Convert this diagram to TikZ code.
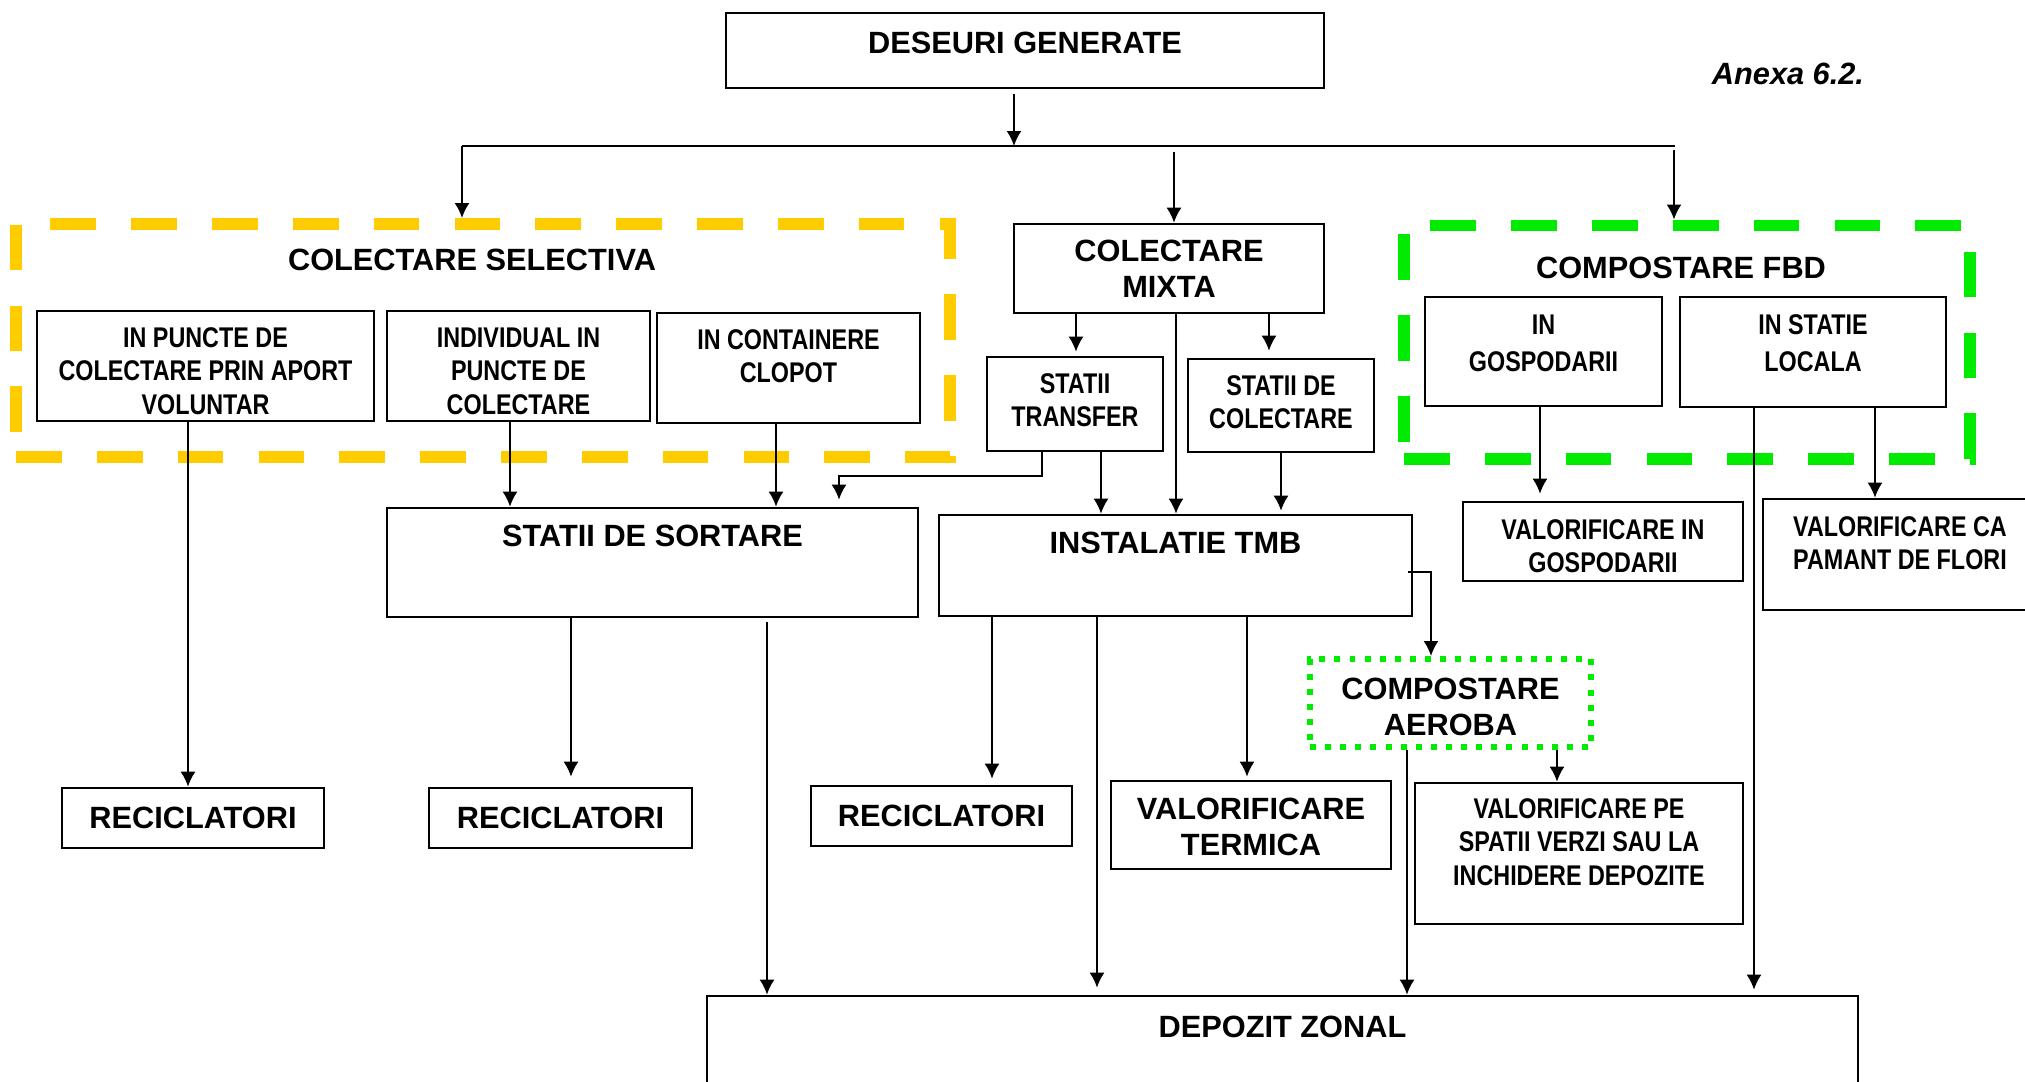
\documentclass[tikz,border=0pt]{standalone}
\usepackage{fontspec}
\setmainfont{Liberation Sans}
\newfontfamily\narrowfont{Liberation Sans}[FakeStretch=0.82]
\usetikzlibrary{arrows.meta,positioning}
\definecolor{selyellow}{RGB}{255,204,0}
\definecolor{fbdgreen}{RGB}{0,235,0}
\begin{document}
\begin{tikzpicture}[->,>={Latex[length=1.5mm,width=1.5mm]},line width=0.55pt]
	\def \hline{-1.46}
	\def \recrow{-8.18}
	\tikzstyle{big-box}=[rectangle,draw=black,line width=0.75pt,inner sep=0pt,align=center,font=\bfseries\fontsize{8.75}{10.3}\selectfont]
	\tikzstyle{narrow-box}=[rectangle,draw=black,line width=0.75pt,inner sep=0pt,align=center,font=\narrowfont\bfseries\fontsize{8.1}{9.5}\selectfont]
	\tikzstyle{big-title}=[inner sep=0pt,align=center,font=\bfseries\fontsize{8.75}{10.3}\selectfont]
	\tikzstyle{narrow-title}=[inner sep=0pt,align=center,font=\narrowfont\bfseries\fontsize{8.1}{9.5}\selectfont]
	\tikzstyle{sel-frame}=[rectangle,draw=selyellow,line width=3.4pt,dash pattern=on 13pt off 10pt]
	\tikzstyle{fbd-frame}=[rectangle,draw=fbdgreen,line width=3.4pt,dash pattern=on 13pt off 10pt]
	\tikzstyle{aer-frame}=[big-box,draw=fbdgreen,line width=1.7pt,dash pattern=on 1.7pt off 2.6pt]

	\useasboundingbox (0,0) rectangle (20.25,-10.82);
	\clip (0,0) rectangle (20.25,-10.82);

	% top
	\node[big-box, minimum width=5.98cm, minimum height=0.75cm,
		label={[big-title,name=dg-text,below=0.19cm]north:DESEURI GENERATE}] (dg) at (10.25,-0.505) {};
	\node[font=\bfseries\itshape\fontsize{8.75}{10.3}\selectfont] (anexa) at (17.88,-0.74) {Anexa 6.2.};

	% groups
	\node[sel-frame, minimum width=9.34cm, minimum height=2.33cm,
		label={[big-title,name=sel-text,below=0.30cm,xshift=-0.11cm]north:COLECTARE SELECTIVA}] (sel) at (4.83,-3.405) {};
	\node[fbd-frame, minimum width=5.66cm, minimum height=2.335cm,
		label={[big-title,name=fbd-text,below=0.365cm,xshift=-0.06cm]north:COMPOSTARE FBD}] (fbd) at (16.87,-3.4225) {};

	% colectare selectiva
	\node[narrow-box, minimum width=3.37cm, minimum height=1.10cm,
		label={[narrow-title,name=p1-text,below=0.17cm]north:IN PUNCTE DE\\COLECTARE PRIN APORT\\VOLUNTAR}] (p1) at (2.055,-3.66) {};
	\node[narrow-box, minimum width=2.63cm, minimum height=1.10cm,
		label={[narrow-title,name=p2-text,below=0.17cm]north:INDIVIDUAL IN\\PUNCTE DE\\COLECTARE}] (p2) at (5.185,-3.66) {};
	\node[narrow-box, minimum width=2.63cm, minimum height=1.10cm,
		label={[narrow-title,name=p3-text,below=0.165cm]north:IN CONTAINERE\\CLOPOT}] (p3) at (7.885,-3.68) {};

	% colectare mixta
	\node[big-box, minimum width=3.10cm, minimum height=0.89cm] (mix) at (11.69,-2.685) {COLECTARE\\MIXTA};
	\node[narrow-box, minimum width=1.76cm, minimum height=0.94cm,
		label={[narrow-title,name=tr-text,below=0.17cm]north:STATII\\TRANSFER}] (tr) at (10.75,-4.04) {};
	\node[narrow-box, minimum width=1.86cm, minimum height=0.93cm,
		label={[narrow-title,name=col-text,below=0.17cm]north:STATII DE\\COLECTARE}] (col) at (12.81,-4.055) {};

	% compostare fbd
	\node[narrow-box, minimum width=2.37cm, minimum height=1.09cm,
		label={[narrow-title,name=gos-text,below=0.18cm,font=\narrowfont\bfseries\fontsize{8.1}{10.5}\selectfont]north:IN\\GOSPODARII}] (gos) at (15.435,-3.515) {};
	\node[narrow-box, minimum width=2.66cm, minimum height=1.10cm,
		label={[narrow-title,name=loc-text,below=0.18cm,font=\narrowfont\bfseries\fontsize{8.1}{10.5}\selectfont]north:IN STATIE\\LOCALA}] (loc) at (18.13,-3.52) {};

	% middle row
	\node[big-box, minimum width=5.31cm, minimum height=1.09cm,
		label={[big-title,name=sort-text,below=0.17cm]north:STATII DE SORTARE}] (sort) at (6.525,-5.625) {};
	\node[big-box, minimum width=4.73cm, minimum height=1.01cm,
		label={[big-title,name=tmb-text,below=0.17cm]north:INSTALATIE TMB}] (tmb) at (11.755,-5.655) {};
	\node[narrow-box, minimum width=2.80cm, minimum height=0.79cm,
		label={[narrow-title,name=vgos-text,below=0.18cm]north:VALORIFICARE IN\\GOSPODARII}] (vgos) at (16.03,-5.415) {};
	\node[narrow-box, minimum width=2.74cm, minimum height=1.11cm,
		label={[narrow-title,name=vpam-text,below=0.18cm]north:VALORIFICARE CA\\PAMANT DE FLORI}] (vpam) at (19.00,-5.545) {};
	\node[aer-frame, minimum width=2.81cm, minimum height=0.88cm,
		label={[big-title,name=aer-text,below=0.21cm]north:COMPOSTARE\\AEROBA}] (aer) at (14.505,-7.03) {};

	% bottom row
	\node[big-box, minimum width=2.62cm, minimum height=0.60cm] (rec1) at (1.93,\recrow) {RECICLATORI};
	\node[big-box, minimum width=2.63cm, minimum height=0.60cm] (rec2) at (5.605,\recrow) {RECICLATORI};
	\node[big-box, minimum width=2.61cm, minimum height=0.60cm] (rec3) at (9.415,-8.16) {RECICLATORI};
	\node[big-box, minimum width=2.80cm, minimum height=0.88cm,
		label={[big-title,name=term-text,below=0.17cm]north:VALORIFICARE\\TERMICA}] (term) at (12.51,-8.25) {};
	\node[narrow-box, minimum width=3.28cm, minimum height=1.41cm,
		label={[narrow-title,name=vpe-text,below=0.16cm]north:VALORIFICARE PE\\SPATII VERZI SAU LA\\INCHIDERE DEPOZITE}] (vpe) at (15.79,-8.535) {};
	\node[big-box, minimum width=11.51cm, minimum height=1.24cm,
		label={[big-title,name=dep-text,below=0.20cm]north:DEPOZIT ZONAL}] (dep) at (12.825,-10.58) {};

	% split line
	\coordinate (split) at (10.14,\hline);
	\coordinate (hl) at (4.62,\hline);
	\coordinate (hr) at (16.75,\hline);
	\coordinate (c-mix) at (11.74,-1.52);
	\coordinate (c-fbd) at (16.74,-1.50);
	\draw[shorten <=0.05cm] (dg.south -| split) -- (split);
	\draw[-] (hl) -- (hr);
	\draw (hl) -- (hl |- sel.north);
	\draw (c-mix) -- (c-mix |- mix.north);
	\draw (c-fbd) -- (c-fbd |- fbd.north);

	% selectiva
	\draw ([xshift=-0.175cm]p1.south) -- ([xshift=-0.175cm]p1.south |- rec1.north);
	\draw ([xshift=-0.085cm]p2.south) -- ([xshift=-0.085cm]p2.south |- sort.north);
	\draw ([xshift=-0.125cm]p3.south) -- ([xshift=-0.125cm]p3.south |- sort.north);

	% mixta
	\draw[shorten >=0.04cm] ([xshift=-0.93cm]mix.south) -- ([xshift=-0.93cm]mix.south |- tr.north);
	\draw[shorten >=0.07cm] ([xshift=1.00cm]mix.south) -- ([xshift=1.00cm]mix.south |- col.north);
	\draw ([xshift=0.07cm]mix.south) -- ([xshift=0.07cm]mix.south |- tmb.north);
	\draw[shorten >=0.07cm] ([xshift=-0.33cm]tr.south) -- ++(0,-0.24) -| ([xshift=1.865cm]sort.north);
	\draw ([xshift=0.26cm]tr.south) -- ([xshift=0.26cm]tr.south |- tmb.north);
	\draw[shorten >=0.03cm] (col.south) -- (col.south |- tmb.north);

	% sortare
	\draw[shorten >=0.10cm] ([xshift=-0.815cm]sort.south) -- ([xshift=-0.815cm]sort.south |- rec2.north);
	\draw[shorten <=0.04cm] ([xshift=1.145cm]sort.south) -- ([xshift=1.145cm]sort.south |- dep.north);

	% tmb
	\draw[shorten >=0.06cm] ([xshift=-1.835cm]tmb.south) -- ([xshift=-1.835cm]tmb.south |- rec3.north);
	\draw[shorten >=0.07cm] ([xshift=-0.785cm]tmb.south) -- ([xshift=-0.785cm]tmb.south |- dep.north);
	\draw[shorten >=0.03cm] ([xshift=0.715cm]tmb.south) -- ([xshift=0.715cm]tmb.south |- term.north);
	\draw ([xshift=-0.05cm,yshift=-0.065cm]tmb.east) -| ([xshift=-0.195cm]aer.north);

	% aeroba
	\draw ([xshift=1.065cm]aer.south) -- ([xshift=1.065cm]aer.south |- vpe.north);
	\draw ([xshift=-0.435cm]aer.south) -- ([xshift=-0.435cm]aer.south |- dep.north);

	% fbd
	\draw[shorten >=0.07cm] ([xshift=-0.035cm]gos.south) -- ([xshift=-0.035cm]gos.south |- vgos.north);
	\draw[shorten >=0.05cm] ([xshift=-0.59cm]loc.south) -- ([xshift=-0.59cm]loc.south |- dep.north);
	\draw ([xshift=0.62cm]loc.south) -- ([xshift=0.62cm]loc.south |- vpam.north);

\end{tikzpicture}
\end{document}
